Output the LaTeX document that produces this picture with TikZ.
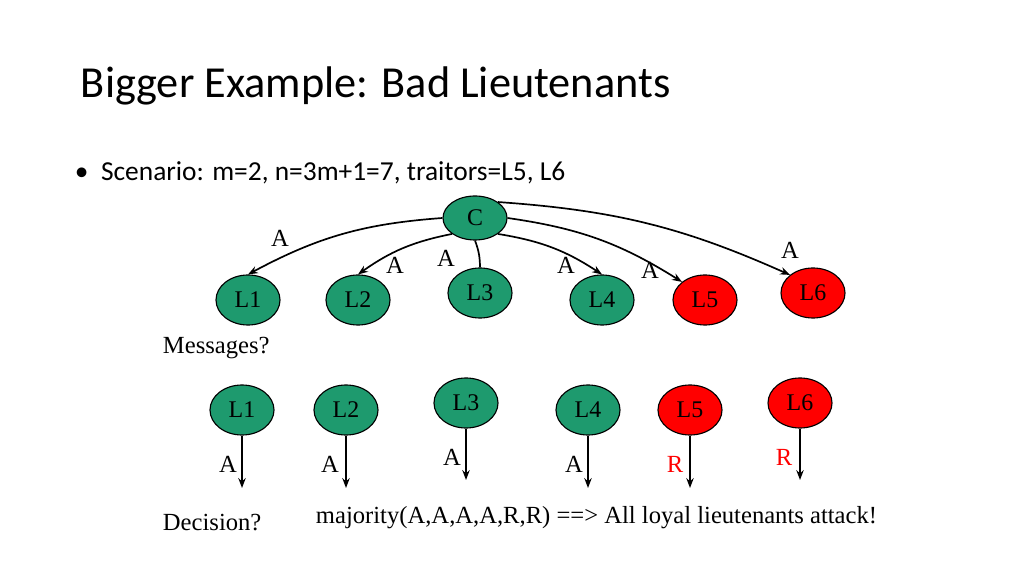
\documentclass[tikz,border=0pt]{standalone}
\usepackage{fontspec}
\setmainfont{Liberation Serif}
\newfontfamily\slidefont{Carlito}
\usetikzlibrary{shapes.geometric,arrows.meta}
\definecolor{loyal}{HTML}{1E9A6E}
\definecolor{traitor}{HTML}{FF0000}

\begin{document}
\begin{tikzpicture}[x=0.025cm, y=-0.025cm,
        gen/.style={ellipse, draw, thick, fill=loyal, minimum width=1.6cm, minimum height=1.25cm, inner sep=0pt, font=\fontsize{17}{17}\selectfont},
        bad/.style={gen, fill=traitor},
        msg/.style={-{Stealth[length=7pt]}, very thick, bend right=12},
        vote/.style={-{Stealth[length=7pt]}, very thick},
        lbl/.style={font=\fontsize{17.5}{17.5}\selectfont},
    ]
        \useasboundingbox (0,0) rectangle (1024,576);
        \node[anchor=west, font=\slidefont\fontsize{31.5}{31.5}\selectfont] (title) at (76,86) {Bigger Example: Bad Lieutenants};
        \node[anchor=west, font=\slidefont\fontsize{19.5}{19.5}\selectfont] (scen) at (70,173) {\textbullet\ \ Scenario: m=2, n=3m+1=7, traitors=L5, L6};

        % messages from the commander
        \node[gen, minimum width=1.6cm, minimum height=1.1cm] (c) at (475,218) {C};
        \node[gen] (m1) at (248,300) {L1};
        \node[gen] (m2) at (358,300) {L2};
        \node[gen] (m3) at (480,293) {L3};
        \node[gen] (m4) at (602,300) {L4};
        \node[bad] (m5) at (705,300) {L5};
        \node[bad] (m6) at (813,293) {L6};
        \draw[msg] (c.west) to (m1.north);
        \draw[msg] (c.south west) to (m2.north);
        \draw[very thick] (c.south) to[bend left=10] (m3.north);
        \draw[msg, bend left=12] (c.south east) to (m4.north);
        \draw[msg, bend left=12] (c.east) to (m5.north west);
        \draw[msg, bend left=10] (c.north east) to (m6.north west);
        \node[lbl] (a1) at (280,238) {A};
        \node[lbl] (a2) at (395,265) {A};
        \node[lbl] (a3) at (446,258) {A};
        \node[lbl] (a4) at (566,265) {A};
        \node[lbl] (a5) at (650,270) {A};
        \node[lbl] (a6) at (790,250) {A};
        \node[lbl, anchor=west] (msgq) at (158,348) {Messages?};

        % decisions
        \node[gen] (d1) at (242,410) {L1};
        \node[gen] (d2) at (346,410) {L2};
        \node[gen] (d3) at (466,403) {L3};
        \node[gen] (d4) at (588,410) {L4};
        \node[bad] (d5) at (690,410) {L5};
        \node[bad] (d6) at (800,403) {L6};
        \foreach \n/\e in {1/488,2/488,3/480,4/488,5/488,6/480}
            \coordinate (e\n) at (d\n.south |- 0,\e);
        \foreach \n in {1,...,6}
            \draw[vote] (d\n.south) -- (e\n);
        \node[lbl] (v1) at (228,464) {A};
        \node[lbl] (v2) at (330,464) {A};
        \node[lbl] (v3) at (452,457) {A};
        \node[lbl] (v4) at (574,464) {A};
        \node[lbl, text=traitor] (v5) at (675,464) {R};
        \node[lbl, text=traitor] (v6) at (784,457) {R};
        \node[lbl, anchor=west] (decq) at (158,523) {Decision?};
        \node[lbl, anchor=west] (maj) at (311,518) {majority(A,A,A,A,R,R) ==> All loyal lieutenants attack!};
    \end{tikzpicture}
\end{document}
